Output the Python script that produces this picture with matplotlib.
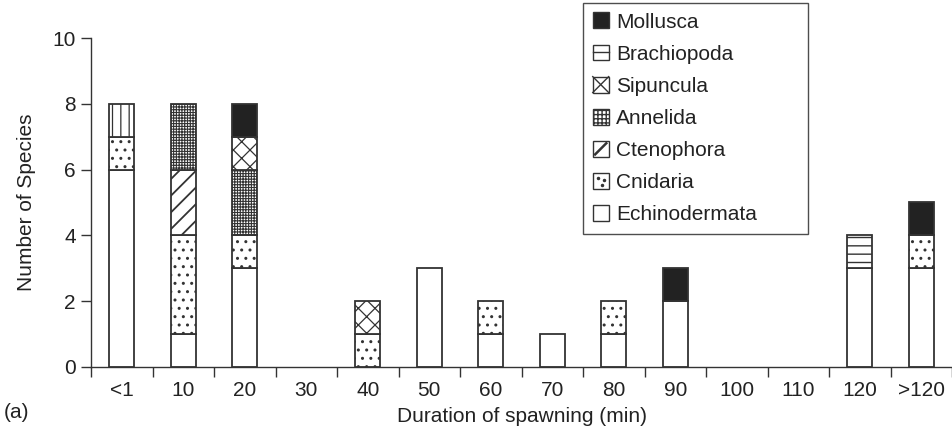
import numpy as np
import matplotlib.pyplot as plt
from matplotlib.patches import Patch, Rectangle
from matplotlib.lines import Line2D
from matplotlib.legend_handler import HandlerBase

plt.rcParams['font.family'] = ['Liberation Sans', 'DejaVu Sans']
plt.rcParams['text.color'] = '#222222'
plt.rcParams['axes.labelcolor'] = '#222222'
plt.rcParams['xtick.color'] = '#333333'
plt.rcParams['ytick.color'] = '#333333'
plt.rcParams['xtick.labelcolor'] = '#222222'
plt.rcParams['ytick.labelcolor'] = '#222222'

durations = ['<1', '10', '20', '30', '40', '50', '60', '70', '80', '90',
             '100', '110', '120', '>120']

# species counts per phylum, stacked bottom to top
echinodermata = [6, 1, 3, 0, 0, 3, 1, 1, 1, 2, 0, 0, 3, 3]
cnidaria      = [1, 3, 1, 0, 1, 0, 1, 0, 1, 0, 0, 0, 0, 1]
ctenophora    = [0, 2, 0, 0, 0, 0, 0, 0, 0, 0, 0, 0, 0, 0]
annelida      = [0, 2, 2, 0, 0, 0, 0, 0, 0, 0, 0, 0, 0, 0]
sipuncula     = [0, 0, 1, 0, 1, 0, 0, 0, 0, 0, 0, 0, 0, 0]
brachiopoda   = [0, 0, 0, 0, 0, 0, 0, 0, 0, 0, 0, 0, 1, 0]
mollusca      = [0, 0, 1, 0, 0, 0, 0, 0, 0, 1, 0, 0, 0, 1]
other         = [1, 0, 0, 0, 0, 0, 0, 0, 0, 0, 0, 0, 0, 0]

# name, counts, fill, bar hatch, hatch line width, legend swatch style
series = [
    ('Echinodermata', echinodermata, 'white', '', 1.0, 'plain'),
    ('Cnidaria', cnidaria, 'white', '..', 1.0, 'dots'),
    ('Ctenophora', ctenophora, 'white', '//', 1.3, 'diag'),
    ('Annelida', annelida, 'white', '++++++', 0.8, 'grid'),
    ('Sipuncula', sipuncula, 'white', 'xx', 0.9, 'cross'),
    ('Brachiopoda', brachiopoda, 'white', '--', 1.0, 'hline'),
    ('Mollusca', mollusca, '#222222', '', 1.0, 'plain'),
    (None, other, 'white', '||', 0.9, None),
]

edge = '#333333'


class SwatchHandler(HandlerBase):
    """Small square legend key with a simplified drawing of the fill pattern."""

    def create_artists(self, legend, orig_handle, xdescent, ydescent,
                       width, height, fontsize, trans):
        side = min(width, height)
        x0 = -xdescent + (width - side) / 2
        y0 = -ydescent + (height - side) / 2
        style = orig_handle.style
        hatch = '++++' if style == 'grid' else ''
        rect = Rectangle((x0, y0), side, side, facecolor=orig_handle.get_facecolor(),
                         edgecolor=edge, hatch=hatch, linewidth=1.0, transform=trans)
        arts = [rect]
        kw = dict(color=edge, linewidth=1.0, transform=trans)
        if style == 'hline':
            arts.append(Line2D([x0, x0 + side], [y0 + side / 2] * 2, **kw))
        elif style == 'cross':
            arts.append(Line2D([x0, x0 + side], [y0, y0 + side], **kw))
            arts.append(Line2D([x0, x0 + side], [y0 + side, y0], **kw))
        elif style == 'diag':
            arts.append(Line2D([x0 + side * 0.15, x0 + side * 0.85],
                               [y0 + side * 0.15, y0 + side * 0.85],
                               color=edge, linewidth=1.8, transform=trans))
        elif style == 'dots':
            arts.append(Line2D([x0 + side * 0.3, x0 + side * 0.7, x0 + side * 0.55],
                               [y0 + side * 0.7, y0 + side * 0.55, y0 + side * 0.25],
                               linestyle='none', marker='o', markersize=1.5,
                               color=edge, transform=trans))
        return arts


x = np.arange(len(durations))
width = 0.41

fig = plt.figure(figsize=(9.52, 4.42), dpi=100)
ax = fig.add_axes([0.0956, 0.170, 0.9044, 0.744])

bottom = np.zeros(len(durations))
handles = []
for name, vals, color, hatch, hlw, style in series:
    vals = np.array(vals, dtype=float)
    keep = vals > 0
    with plt.rc_context({'hatch.linewidth': hlw, 'hatch.color': edge}):
        ax.bar(x[keep], vals[keep], width, bottom=bottom[keep], color=color,
               edgecolor=edge, hatch=hatch, linewidth=1.3)
    bottom += vals
    if name:
        h = Patch(facecolor=color, edgecolor=edge, label=name)
        h.style = style
        handles.append(h)

ax.set_xlim(-0.5, len(durations) - 0.5)
ax.set_ylim(0, 10)
ax.set_yticks([0, 2, 4, 6, 8, 10])
ax.set_xticks(x)
ax.set_xticklabels(durations)
ax.set_xticks(np.arange(len(durations) + 1) - 0.5, minor=True)
ax.tick_params(axis='x', which='major', length=0, pad=10, labelsize=15)
ax.tick_params(axis='x', which='minor', length=7, width=1)
ax.tick_params(axis='y', length=7, width=1, labelsize=15, pad=4)

for side in ['top', 'right']:
    ax.spines[side].set_visible(False)
for side in ['left', 'bottom']:
    ax.spines[side].set_color(edge)
    ax.spines[side].set_linewidth(1)

ax.set_ylabel('Number of Species', fontsize=15, labelpad=12)
ax.set_xlabel('Duration of spawning (min)', fontsize=15, labelpad=5)
fig.text(0.004, 0.055, '(a)', fontsize=15)

leg = fig.legend(handles=handles[::-1], loc='upper left',
                 bbox_to_anchor=(583 / 952, 1 - 243 / 442, 225 / 952, 240 / 442),
                 mode='expand', fontsize=15, frameon=True, fancybox=False,
                 handlelength=0.8, handleheight=0.8, handletextpad=0.35,
                 labelspacing=0.62, borderpad=0.45, borderaxespad=0,
                 handler_map={Patch: SwatchHandler()})
leg.get_frame().set_edgecolor('#222222')
leg.get_frame().set_linewidth(1)

fig.savefig('out.png', dpi=100)
